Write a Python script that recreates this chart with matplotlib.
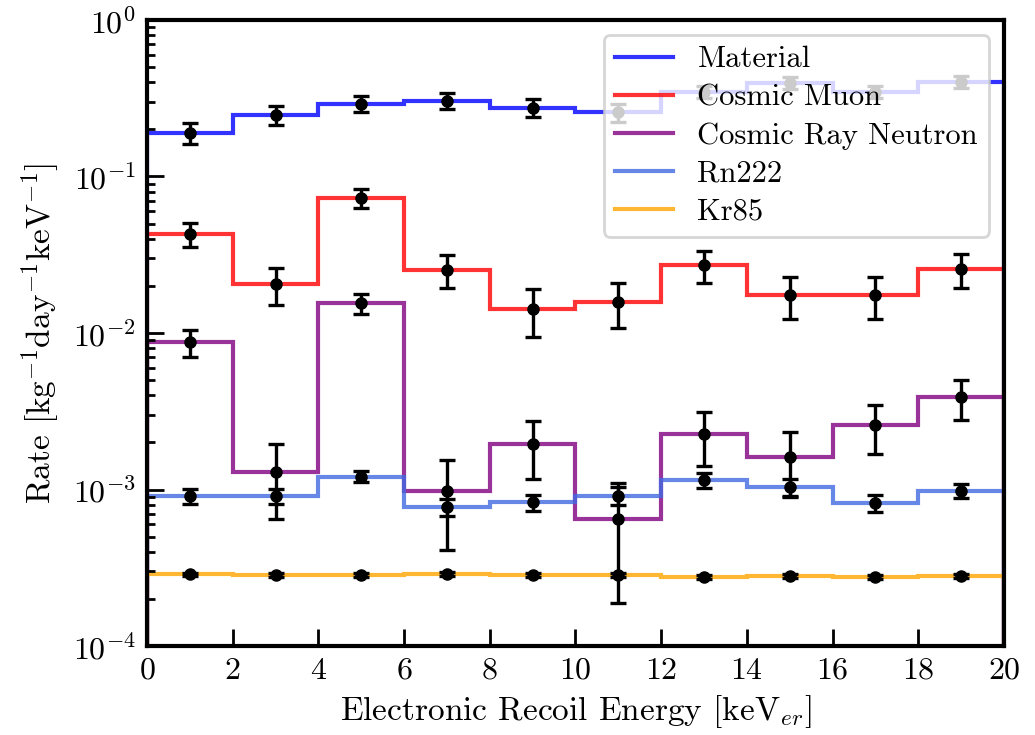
import numpy as np
import matplotlib
matplotlib.use("Agg")
import matplotlib.pyplot as plt

plt.rcParams['font.family'] = 'serif'
plt.rcParams['font.serif'] = ['cmr10']
plt.rcParams['mathtext.fontset'] = 'cm'
plt.rcParams['axes.formatter.use_mathtext'] = True
plt.rcParams['axes.unicode_minus'] = False

# energy bins [keV_er]
edges = np.arange(0, 21, 2)
centers = edges[:-1] + 1

material = [0.19, 0.248, 0.292, 0.305, 0.275, 0.256, 0.348, 0.394, 0.348, 0.40]
material_err = [0.03, 0.035, 0.035, 0.035, 0.035, 0.032, 0.03, 0.035, 0.03, 0.035]

muon = [0.043, 0.0206, 0.073, 0.0253, 0.0142, 0.0158, 0.0272, 0.0175, 0.0175, 0.0256]
muon_err = [0.0075, 0.0055, 0.01, 0.006, 0.0048, 0.005, 0.0062, 0.0053, 0.0053, 0.0062]

neutron = [0.00873, 0.0013, 0.0155, 0.000973, 0.00194, 0.000648, 0.00227, 0.00162, 0.00259, 0.00388]
neutron_err = [0.0017, 0.00065, 0.0022, 0.00056, 0.00078, 0.00046, 0.00086, 0.00072, 0.0009, 0.0011]

rn222 = [0.000914, 0.000914, 0.00121, 0.000776, 0.000828, 0.000914, 0.00115, 0.00104, 0.000816, 0.000978]
rn222_err = [0.0001, 0.0001, 0.0001, 0.0001, 0.0001, 0.00012, 0.00012, 0.00013, 0.0001, 0.0001]

kr85 = [0.000287, 0.000283, 0.000286, 0.00029, 0.000286, 0.000283, 0.000277, 0.000282, 0.000277, 0.00028]
kr85_err = [0.000008] * 10

labels = ["Material", "Cosmic Muon", "Cosmic Ray Neutron", "Rn222", "Kr85"]
colors = ["blue", "red", "purple", "royalblue", "orange"]

fig = plt.figure(figsize=(10.35, 7.35), dpi=100)
ax = fig.add_axes([0.142, 0.121, 0.828, 0.852])

series = [(material, material_err), (muon, muon_err), (neutron, neutron_err),
          (rn222, rn222_err), (kr85, kr85_err)]
for (vals, errs), lab, col in zip(series, labels, colors):
    ax.stairs(vals, edges, color=col, alpha=0.8, linewidth=3, label=lab)
    ax.errorbar(centers, vals, yerr=errs, fmt='o', color='black', markersize=8,
                elinewidth=2.4, capsize=6, capthick=2.4)

ax.set_yscale('log')
ax.set_xlim(0, 20)
ax.set_ylim(1e-4, 1)
ax.set_xticks(np.arange(0, 21, 2))
ax.tick_params(which='both', direction='in', labelsize=23, width=2)
ax.tick_params(which='major', length=12, pad=8)
ax.tick_params(which='minor', length=6)
for s in ax.spines.values():
    s.set_linewidth(3)

ax.set_xlabel(r"Electronic Recoil Energy [keV$_{er}$]", fontsize=24, labelpad=6)
ax.set_ylabel(r"Rate [kg$^{-1}$day$^{-1}$keV$^{-1}$]", fontsize=24, labelpad=8)

leg = ax.legend(loc='upper right', fontsize=22, framealpha=0.8,
                borderaxespad=0.5, handlelength=1.9, labelspacing=0.35,
                borderpad=0.35)
leg.get_frame().set_linewidth(2)

plt.savefig("out.png", dpi=100)
